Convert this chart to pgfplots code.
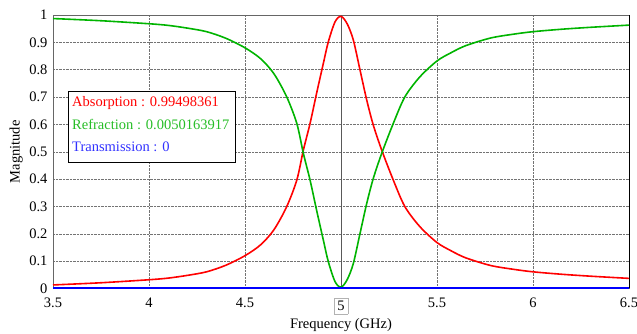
\documentclass[border=0pt]{standalone}
\usepackage{fontspec}
\setmainfont{Liberation Serif}
\usepackage{pgfplots}
\pgfplotsset{compat=1.18}
\definecolor{cred}{RGB}{255,0,0}
\definecolor{cgreen}{RGB}{0,180,0}
\definecolor{cblue}{RGB}{0,0,255}
\definecolor{tgreen}{RGB}{40,190,40}
\definecolor{tblue}{RGB}{50,50,255}
\begin{document}
\begin{tikzpicture}
\useasboundingbox (0,0) rectangle (637pt,334pt);
\begin{axis}[
  at={(53pt,45.5pt)}, anchor=south west,
  scale only axis, width=576pt, height=273.5pt,
  xmin=3.5, xmax=6.5, ymin=0, ymax=1,
  xtick={3.5,4,4.5,5,5.5,6,6.5},
  xticklabels={3.5,4,4.5,{\fcolorbox{gray!60}{white}{5}},5.5,6,6.5},
  ytick={0,0.1,0.2,0.3,0.4,0.5,0.6,0.7,0.8,0.9,1},
  yticklabels={0,0.1,0.2,0.3,0.4,0.5,0.6,0.7,0.8,0.9,1},
  /pgf/number format/assume math mode=true,
  tick style={draw=none},
  ticklabel style={font=\fontsize{14.5}{16}\selectfont},
  xticklabel style={yshift=-5.5pt},
  yticklabel style={xshift=-2pt},
  xmajorgrids, ymajorgrids,
  major grid style={densely dotted, black!55},
  axis line style={gray!80!black, line width=0.8pt},
  xlabel={Frequency (GHz)}, ylabel={Magnitude},
  label style={font=\fontsize{14.5}{16}\selectfont},
  xlabel style={at={(rel axis cs:0.5,-0.1335)}, anchor=center},
  ylabel style={at={(rel axis cs:-0.064,0.5)}, anchor=center},
  clip=false,
]
\draw[gray!70!black, line width=0.8pt] (axis cs:5,0) -- (axis cs:5,1);
\draw[black, line width=1pt] (axis cs:6.5,0) -- (axis cs:6.5,1);
\addplot[cred, line width=1.6pt, smooth] coordinates {
(3.5,0.013) (3.75,0.021) (4.0,0.032) (4.1,0.038) (4.2,0.048) (4.3,0.061) (4.4,0.085)
(4.5,0.12) (4.58,0.159) (4.65,0.214) (4.717,0.299) (4.77,0.397) (4.804,0.506)
(4.839,0.604) (4.873,0.714) (4.908,0.823) (4.934,0.902) (4.969,0.975) (5.0,0.995)
(5.032,0.968) (5.064,0.909) (5.099,0.799) (5.134,0.689) (5.168,0.598) (5.212,0.506)
(5.272,0.397) (5.333,0.299) (5.411,0.226) (5.5,0.168) (5.573,0.138) (5.65,0.112)
(5.78,0.084) (5.9,0.070) (6.0,0.061) (6.15,0.052) (6.3,0.045) (6.5,0.037)
};
\addplot[cgreen, line width=1.6pt, smooth] coordinates {
(3.5,0.987) (3.75,0.979) (4.0,0.968) (4.1,0.962) (4.2,0.952) (4.3,0.939) (4.4,0.915)
(4.5,0.88) (4.58,0.841) (4.65,0.786) (4.717,0.701) (4.77,0.603) (4.804,0.494)
(4.839,0.396) (4.873,0.286) (4.908,0.177) (4.934,0.098) (4.969,0.025) (5.0,0.005)
(5.032,0.032) (5.064,0.091) (5.099,0.201) (5.134,0.311) (5.168,0.402) (5.212,0.494)
(5.272,0.603) (5.333,0.701) (5.411,0.774) (5.5,0.832) (5.573,0.862) (5.65,0.888)
(5.78,0.916) (5.9,0.930) (6.0,0.939) (6.15,0.948) (6.3,0.955) (6.5,0.963)
};
\addplot[cblue, line width=2pt] coordinates {(3.5,0) (4,0) (4.5,0) (5,0) (5.5,0) (6,0) (6.5,0)};
\draw[black, line width=0.8pt, fill=white] (axis cs:3.578,0.4625) rectangle (axis cs:4.448,0.722);
\node[anchor=base west, inner sep=0, text=cred, font=\fontsize{14.5}{16}\selectfont] at (axis cs:3.599,0.6647) {Absorption : 0.99498361};
\node[anchor=base west, inner sep=0, text=tgreen, font=\fontsize{14.5}{16}\selectfont] at (axis cs:3.599,0.5814) {Refraction : 0.0050163917};
\node[anchor=base west, inner sep=0, text=tblue, font=\fontsize{14.5}{16}\selectfont] at (axis cs:3.599,0.500) {Transmission : 0};
\end{axis}
\end{tikzpicture}
\end{document}
